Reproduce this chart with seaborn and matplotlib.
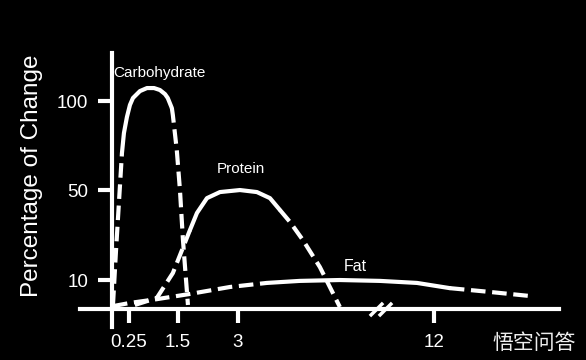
import numpy as np
import pandas as pd
import matplotlib
matplotlib.use("Agg")
import matplotlib.pyplot as plt
from matplotlib.path import Path
import seaborn as sns

# Curves (x = hours, y = percentage of change)
carb_hours = [0.015, 0.06, 0.147, 0.176, 0.22, 0.275, 0.352, 0.53, 0.71, 0.89,
              1.04, 1.17, 1.24, 1.345, 1.37, 1.47, 1.55, 1.625, 1.75]
carb_change = [1.4, 23.3, 70.8, 82, 91, 97.8, 101.7, 105.6, 107.3, 107.3,
               106.2, 103.9, 101.7, 96, 92.1, 72.5, 50, 27.8, 1.4]

protein_hours = [0.40, 0.96, 1.37, 1.8, 1.975, 2.225, 2.55, 3.09, 3.87, 4.47,
                 4.93, 5.39, 5.98, 6.76, 7.68]
protein_change = [1.4, 3.8, 13.1, 32.2, 39.8, 46.4, 49.1, 50, 49.1, 46.4,
                  41.1, 35.8, 27.8, 15.8, 0.7]

fat_hours = [0.015, 0.275, 0.96, 1.8, 2.8, 4.33, 5.84, 7.68, 9.52, 11.22,
             12.73, 14.56, 16.4]
fat_change = [1.0, 2.1, 3.4, 5.2, 7.6, 9.0, 9.7, 10, 9.7, 9.0, 7.2, 5.9, 4.5]

# index range drawn solid (rest dashed)
solid_parts = {"Carbohydrate": (2, 13), "Protein": (3, 10), "Fat": (5, 10)}

x_ticks = [0.25, 1.5, 3, 12]
x_tick_labels = ["0.25", "1.5", "3", "12"]
y_ticks = [10, 50, 100]

# the original axes are not linear: piecewise scales
x_knots = [-1, 0, 0.25, 1.5, 3, 12, 20]
x_pix = [-68, 0, 17, 66, 126, 322, 496]
y_knots = [-10, 0, 10, 50, 100, 150]
y_pix = [-29, 0, 29, 119, 208, 297]

sns.set_style("dark", {"axes.facecolor": "black", "figure.facecolor": "black"})
plt.rcParams["font.family"] = ["Liberation Sans", "DejaVu Sans"]

fig = plt.figure(figsize=(5.86, 3.6), dpi=100, facecolor="black")
ax = fig.add_axes([80 / 586, 33 / 360, 479 / 586, 274 / 360])
ax.set_facecolor("black")

ax.set_xscale("function", functions=(lambda v: np.interp(v, x_knots, x_pix),
                                     lambda p: np.interp(p, x_pix, x_knots)))
ax.set_yscale("function", functions=(lambda v: np.interp(v, y_knots, y_pix),
                                     lambda p: np.interp(p, y_pix, y_knots)))

curves = {
    "Carbohydrate": (carb_hours, carb_change),
    "Protein": (protein_hours, protein_change),
    "Fat": (fat_hours, fat_change),
}

for name, (hrs, chg) in curves.items():
    df = pd.DataFrame({"hours": hrs, "change": chg})
    a, b = solid_parts[name]
    pieces = [(df.iloc[:a + 1], "--"), (df.iloc[a:b + 1], "-"), (df.iloc[b:], "--")]
    for part, ls in pieces:
        sns.lineplot(data=part, x="hours", y="change", ax=ax, sort=False,
                     estimator=None, color="white", lw=3, linestyle=ls)
for ln in ax.get_lines():
    if ln.get_linestyle() == "--":
        ln.set_dashes((3.5, 1.6))
        ln.set_dash_capstyle("butt")
    else:
        ln.set_solid_capstyle("round")

# curve labels
ax.text(1.04, 115.7, "Carbohydrate", color="white", fontsize=11, ha="center", va="center")
ax.text(3.14, 61.8, "Protein", color="white", fontsize=11, ha="center", va="center")
ax.text(8.37, 15.8, "Fat", color="white", fontsize=11.5, ha="center", va="center")

# axis break mark
slash = Path([(-1, -1), (1, 1)])
ax.plot([9.33, 9.77], [0, 0], ls="none", marker=slash, ms=9.5, mew=2.5, mec="white")

ax.set_xlim(-0.47, 17.75)
ax.set_ylim(-6.2, 127)

for side in ["top", "right"]:
    ax.spines[side].set_visible(False)
for side in ["bottom", "left"]:
    ax.spines[side].set_visible(True)
    ax.spines[side].set_color("white")
    ax.spines[side].set_linewidth(3)
ax.spines["bottom"].set_position(("data", 0))
ax.spines["left"].set_position(("data", 0))

ax.set_xticks(x_ticks)
ax.set_xticklabels(x_tick_labels)
ax.set_yticks(y_ticks)
ax.minorticks_off()
ax.tick_params(axis="both", direction="out", length=10, width=3, color="white",
               labelcolor="white", labelsize=13.5, bottom=True, left=True)
ax.tick_params(axis="x", pad=8)
ax.tick_params(axis="y", pad=7)
ax.grid(False)

ax.set_xlabel("")
ax.set_ylabel("Percentage of Change", color="white", fontsize=17.5)
ax.yaxis.set_label_coords(-0.077, 0.551)

fig.text(576 / 586, 1 - 343 / 360, "悟空问答", ha="right", va="center",
         fontsize=15, color="#eeeeee", family=["Noto Sans CJK SC", "DejaVu Sans"])

fig.savefig("out.png", dpi=100, facecolor="black")
